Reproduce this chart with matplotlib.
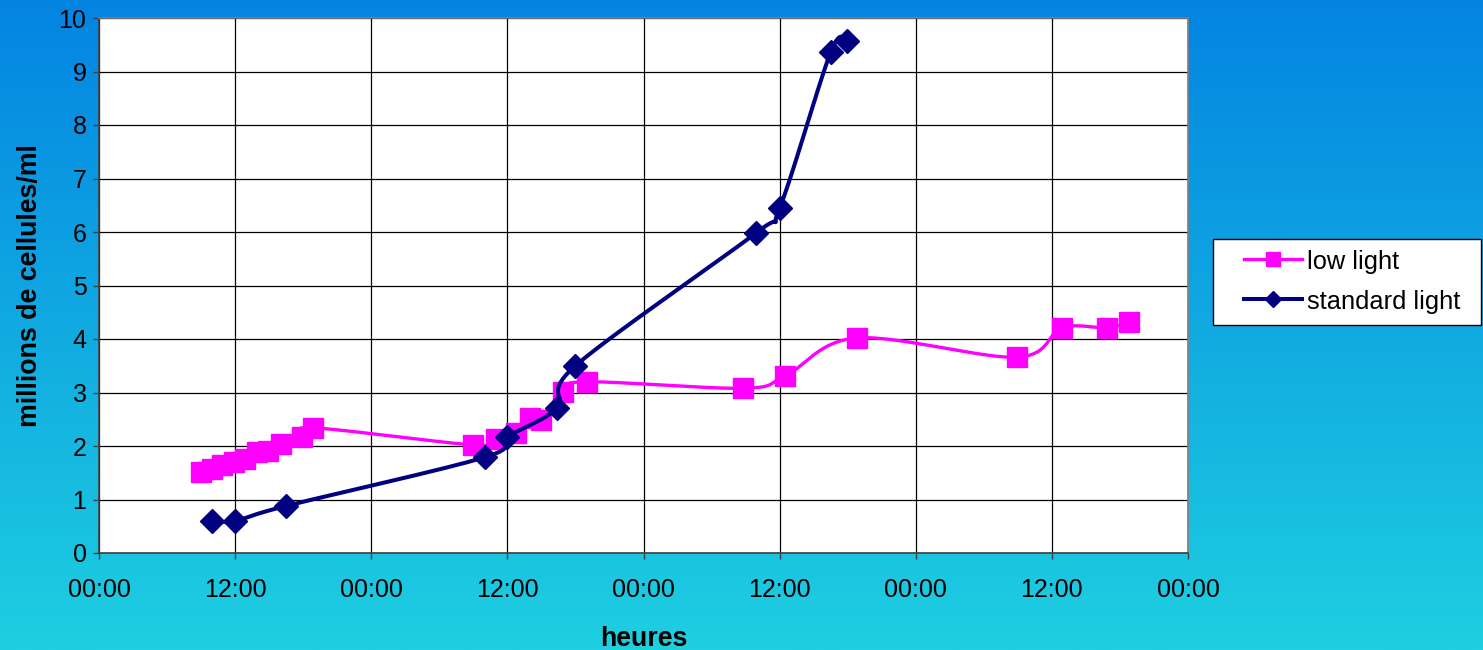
import numpy as np
import matplotlib
matplotlib.use("Agg")
import matplotlib.pyplot as plt
from matplotlib.lines import Line2D
from matplotlib.patches import Rectangle
from matplotlib.colors import LinearSegmentedColormap
from matplotlib.transforms import Affine2D

plt.rcParams['font.family'] = ['Liberation Sans', 'DejaVu Sans']

# Hours elapsed since the first 00:00 on the axis
low_hours = [9.0, 10.0, 10.8, 11.9, 12.9, 13.9, 14.9, 16.0, 17.9, 18.9,
             33.0, 35.0, 36.8, 38.0, 39.0, 40.9, 43.0, 56.8, 60.5, 66.8,
             80.9, 84.9, 88.9, 90.8]
low_cells = [1.51, 1.57, 1.64, 1.70, 1.76, 1.89, 1.91, 2.04, 2.17, 2.34,
             2.02, 2.13, 2.24, 2.52, 2.49, 3.01, 3.20, 3.08, 3.31, 4.02,
             3.66, 4.21, 4.21, 4.32]

std_hours = [10.0, 12.0, 16.5, 34.0, 36.0, 40.4, 42.0, 57.9, 60.0, 64.5, 65.9]
std_cells = [0.60, 0.60, 0.88, 1.79, 2.17, 2.71, 3.50, 5.98, 6.45, 9.36, 9.57]

x_ticks = [0, 12, 24, 36, 48, 60, 72, 84, 96]
x_tick_labels = ["00:00", "12:00", "00:00", "12:00", "00:00",
                 "12:00", "00:00", "12:00", "00:00"]
y_ticks = list(range(0, 11))

series_names = ["low light", "standard light"]
LOW_COLOR = "#ff00ff"
STD_COLOR = "#000080"

W, H = 1483, 650
fig = plt.figure(figsize=(W / 100, H / 100), dpi=100)

# Vertical blue-to-cyan backdrop
bg = fig.add_axes([0, 0, 1, 1], zorder=-10)
cmap = LinearSegmentedColormap.from_list("bg", ["#0384e2", "#1ecfe0"])
grad = np.linspace(0, 1, 256).reshape(-1, 1)
bg.imshow(grad, aspect="auto", cmap=cmap, extent=[0, 1, 0, 1], origin="upper")
bg.set_axis_off()

left, right, top, bottom = 99, 1188, 18, 553
ax = fig.add_axes([left / W, (H - bottom) / H, (right - left) / W, (bottom - top) / H])
ax.set_facecolor("white")
ax.set_xlim(0, 96)
ax.set_ylim(0, 10)


def smooth(xs, ys, xspan=96.0, yspan=10.0, n=30):
    """Bezier smoothing through the points (Catmull-Rom style), in screen-like units."""
    sx, sy = right - left, bottom - top
    P = np.column_stack([np.asarray(xs) / xspan * sx, np.asarray(ys) / yspan * sy])
    out = [P[0]]
    t = np.linspace(0, 1, n)[1:, None]
    for i in range(len(P) - 1):
        p0 = P[i - 1] if i > 0 else P[i]
        p1, p2 = P[i], P[i + 1]
        p3 = P[i + 2] if i + 2 < len(P) else P[i + 1]
        c1 = p1 + (p2 - p0) / 6.0
        c2 = p2 - (p3 - p1) / 6.0
        seg = ((1 - t) ** 3) * p1 + 3 * ((1 - t) ** 2) * t * c1 + 3 * (1 - t) * t ** 2 * c2 + t ** 3 * p2
        out.extend(seg)
    out = np.array(out)
    return out[:, 0] / sx * xspan, out[:, 1] / sy * yspan


LOW_LW, STD_LW = 2.4, 2.9

lx, ly = smooth(low_hours, low_cells)
ax.plot(lx, ly, color=LOW_COLOR, lw=LOW_LW, zorder=3, solid_capstyle="round")
ax.plot(low_hours, low_cells, ls="none", marker="s", ms=14, mfc=LOW_COLOR,
        mec=LOW_COLOR, zorder=4)

sx_, sy_ = smooth(std_hours, std_cells)
ax.plot(sx_, sy_, color=STD_COLOR, lw=STD_LW, zorder=5, solid_capstyle="round")
ax.plot(std_hours, std_cells, ls="none", marker="D", ms=12.5, mfc=STD_COLOR,
        mec=STD_COLOR, zorder=6)

ax.set_xticks(x_ticks)
ax.set_xticklabels(x_tick_labels)
ax.set_yticks(y_ticks)
ax.grid(True, color="black", lw=0.9, zorder=1)
ax.set_axisbelow(True)
for side in ["top", "right"]:
    ax.spines[side].set_color("#808080")
    ax.spines[side].set_linewidth(1.2)
for side in ["left", "bottom"]:
    ax.spines[side].set_color("#404040")
    ax.spines[side].set_linewidth(1.2)
ax.tick_params(axis="both", direction="out", length=4, width=1, color="#404040",
               labelsize=18, labelcolor="black")
ax.tick_params(axis="y", pad=5)
ax.tick_params(axis="x", pad=14)

ax.set_xlabel("heures", fontsize=19.3, fontweight="bold", labelpad=17)
ax.set_ylabel("millions de cellules/ml", fontsize=19.3, fontweight="bold", labelpad=11)

# Legend box, laid out in figure pixels
px = Affine2D().scale(1 / W, 1 / H) + fig.transFigure


def fy(y):
    return H - y


fig.patches.append(Rectangle((1213, fy(325)), 268, 86, transform=px,
                             facecolor="white", edgecolor="black", lw=1.0, zorder=20))
rows = [(259, LOW_COLOR, LOW_LW, "s", 10.5), (299, STD_COLOR, STD_LW, "D", 8.5)]
for (yc, col, lw, mk, ms), name in zip(rows, series_names):
    fig.lines.append(Line2D([1244, 1302], [fy(yc), fy(yc)], transform=px, color=col,
                            lw=lw, zorder=21))
    fig.lines.append(Line2D([1273], [fy(yc)], transform=px, color=col, marker=mk, ms=ms,
                            mfc=col, mec=col, ls="none", zorder=22))
    fig.text(1307 / W, fy(yc) / H, name, fontsize=18.3, va="center_baseline",
             ha="left", zorder=23)

fig.savefig("out.png", dpi=100)
